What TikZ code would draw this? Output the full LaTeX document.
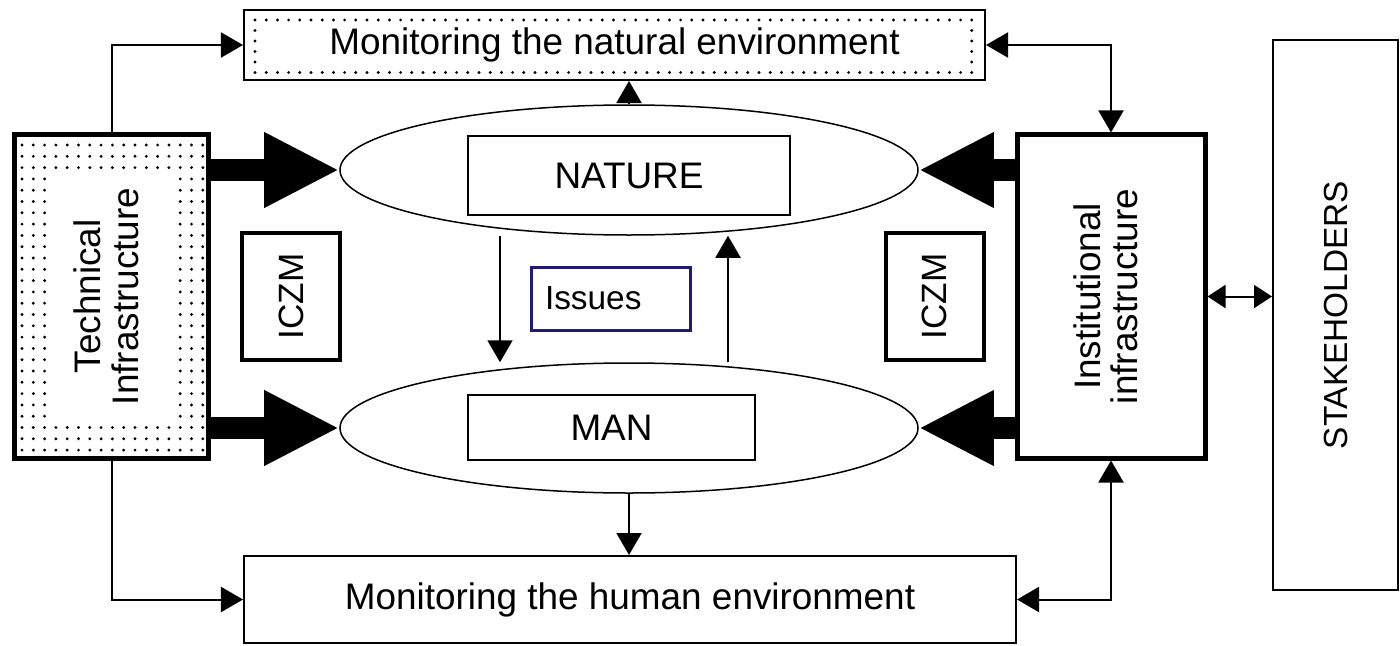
\documentclass[tikz,border=0pt]{standalone}
\usepackage{fontspec}
\setmainfont{Liberation Sans}
\usetikzlibrary{arrows.meta}
\usetikzlibrary{shapes.geometric}
\definecolor{issue-blue}{HTML}{1C1C78}

\begin{document}
\begin{tikzpicture}[x=0.2mm, y=-0.2mm, font=\fontsize{21}{20}\selectfont,
    >={Triangle[length=4.4mm,width=5mm]},
    thinbox/.style={draw, line width=0.4mm, inner sep=0pt},
    heavybox/.style={draw, line width=1mm, inner sep=0pt},
    oval/.style={draw, ellipse, line width=0.3mm, minimum width=115.6mm, minimum height=26mm},
    link/.style={line width=0.4mm, ->},
    duallink/.style={line width=0.4mm, <->},
    biglink/.style={line width=4.4mm, -{Triangle[length=15mm,width=14mm]}}]

    % Page frame
    \useasboundingbox (0,0) rectangle (1400,646);

    % Dots round the natural monitoring box
    \foreach \x in {255,266.2,...,976} {
        \foreach \y in {20,30.5,...,74} {
            \fill (\x,\y) circle (0.32mm);
        }
    }
    \fill[white] (262,26) rectangle (968,67);

    % Dots round the technical box
    \foreach \x in {22,33.3,...,204} {
        \foreach \y in {145,156.3,...,452} {
            \fill (\x,\y) circle (0.32mm);
        }
    }
    \fill[white] (50,172) rectangle (175,422);

    % Monitoring boxes
    \node[thinbox, minimum width=148.2mm, minimum height=14mm] (natmon) at (614.5,45) {Monitoring the natural environment};
    \node[thinbox, minimum width=154.4mm, minimum height=17.4mm] (manmon) at (630,599.5) {Monitoring the human environment};

    % Infrastructure boxes
    \node[heavybox, minimum width=38.6mm, minimum height=64.6mm] (tech) at (111.5,296.5)
        {\rotatebox{90}{\begin{tabular}{@{}c@{}}Technical\\Infrastructure\end{tabular}}};
    \node[heavybox, minimum width=37.6mm, minimum height=64.6mm] (inst) at (1111,296.5)
        {\rotatebox{90}{\begin{tabular}{@{}c@{}}Institutional\\infrastructure\end{tabular}}};
    \node[thinbox, minimum width=25mm, minimum height=110mm, font=\fontsize{19}{23}\selectfont] (stake) at (1335.5,315)
        {\rotatebox{90}{STAKEHOLDERS}};

    % ICZM boxes
    \node[heavybox, line width=0.8mm, minimum width=19.6mm, minimum height=25.4mm, font=\fontsize{20}{22}\selectfont] (iczmleft) at (291,296.5) {\rotatebox{90}{ICZM}};
    \node[heavybox, line width=0.8mm, minimum width=19.6mm, minimum height=25.4mm, font=\fontsize{20}{22}\selectfont] (iczmright) at (934.5,296.5) {\rotatebox{90}{ICZM}};

    % Nature and man
    \node[oval] (natell) at (629,170) {};
    \node[thinbox, fill=white, minimum width=64.4mm, minimum height=15.8mm] (nature) at (629,175.5) {NATURE};
    \node[oval] (manell) at (629,428) {};
    \node[thinbox, fill=white, minimum width=57.4mm, minimum height=13mm] (man) at (611.5,427.5) {MAN};
    \node[draw=issue-blue, line width=0.6mm, minimum height=12.6mm, text width=26.2mm, inner xsep=2.8mm, inner ysep=0pt,
        align=left, font=\fontsize{19}{23}\selectfont] (issues) at (610.5,298.5) {Issues};

    % Heavy arrows
    \draw[biglink] (tech.east |- natell.west) -- (natell.west);
    \draw[biglink] (tech.east |- manell.west) -- (manell.west);
    \draw[biglink] (inst.west |- natell.east) -- (natell.east);
    \draw[biglink] (inst.west |- manell.east) -- (manell.east);

    % Thin links
    \draw[link] (tech.north) |- (natmon.west);
    \draw[link] (tech.south) |- (manmon.west);
    \draw[duallink] (natmon.east) -| (inst.north);
    \draw[duallink] (manmon.east) -| (inst.south);
    \draw[link] (natell.north) -- (natell.north |- natmon.south);
    \draw[link] (manell.south) -- (manell.south |- manmon.north);
    \draw[link] ([xshift=-25.8mm]natell.south) -- ([xshift=-25.8mm]manell.north);
    \draw[link] ([xshift=19.8mm]manell.north) -- ([xshift=19.8mm]natell.south);
    \draw[line width=0.4mm, {Triangle[length=3.6mm,width=4.6mm]}-{Triangle[length=3.6mm,width=4.6mm]}]
        (inst.east) -- (inst.east -| stake.west);
\end{tikzpicture}
\end{document}
